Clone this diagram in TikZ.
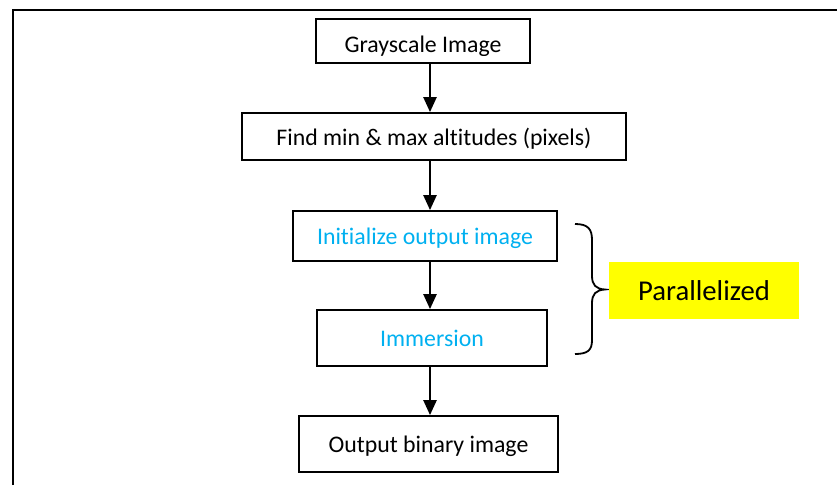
\documentclass[tikz,border=0pt]{standalone}
\usepackage{fontspec}
\setmainfont{Carlito}[Ligatures={NoCommon}]
\usetikzlibrary{arrows.meta}
\definecolor{stepblue}{HTML}{00B0F0}
\definecolor{hilite}{HTML}{FFFF00}
\tikzset{
  stepbox/.style={draw=black, line width=1.8pt, rectangle, inner sep=0pt,
    text depth=0pt, font=\fontsize{23.8}{28}\selectfont},
  flowarrow/.style={line width=2.4pt, -{Triangle[width=13pt,length=15pt]}},
  frameline/.style={line width=2.7pt},
}
\begin{document}
\begin{tikzpicture}[x=1pt, y=-1pt]
  \useasboundingbox (0,0) rectangle (837,485);

  % outer frame (top and left edges only)
  \draw[frameline] (13,485) -- (13,10) -- (837,10);

  % flowchart steps
  \node[stepbox, minimum width=214pt, minimum height=44pt] (b1) at (423,41) {};
  \begin{scope}
    \clip (316,19) rectangle (530,55);
    \node[anchor=base, inner sep=0pt, font=\fontsize{23.8}{28}\selectfont] (b1text) at (423,52.5) {Grayscale Image};
  \end{scope}
  \node[stepbox, minimum width=384pt, minimum height=47pt] (b2) at (434,136.5) {Find min \& max altitudes (pixels)};
  \node[stepbox, minimum width=264pt, minimum height=50pt, text=stepblue] (b3) at (425,236) {Initialize output image};
  \node[stepbox, minimum width=230pt, minimum height=56pt, text=stepblue] (b4) at (432,338) {Immersion};
  \node[stepbox, minimum width=259pt, minimum height=56pt] (b5) at (428.5,444) {Output binary image};

  % connectors along a common vertical spine
  \coordinate (spine) at (430,0);
  \draw[flowarrow] (b1.south -| spine) -- (b2.north -| spine);
  \draw[flowarrow] (b2.south -| spine) -- (b3.north -| spine);
  \draw[flowarrow] (b3.south -| spine) -- (b4.north -| spine);
  \draw[flowarrow] (b4.south -| spine) -- (b5.north -| spine);

  % brace grouping the parallel steps
  \draw[line width=1.8pt]
    (575,224) .. controls (588,224) and (592,229) .. (592,240)
    -- (592,276) .. controls (592,285) and (596,289) .. (605,289.5)
    .. controls (596,290) and (592,294) .. (592,303)
    -- (592,340) .. controls (592,350) and (588,354) .. (575,354);

  % highlighted label
  \node[fill=hilite, minimum width=190pt, minimum height=57pt, inner sep=0pt,
        font=\fontsize{28.7}{34}\selectfont] (par) at (704,290.5) {Parallelized};
\end{tikzpicture}
\end{document}
